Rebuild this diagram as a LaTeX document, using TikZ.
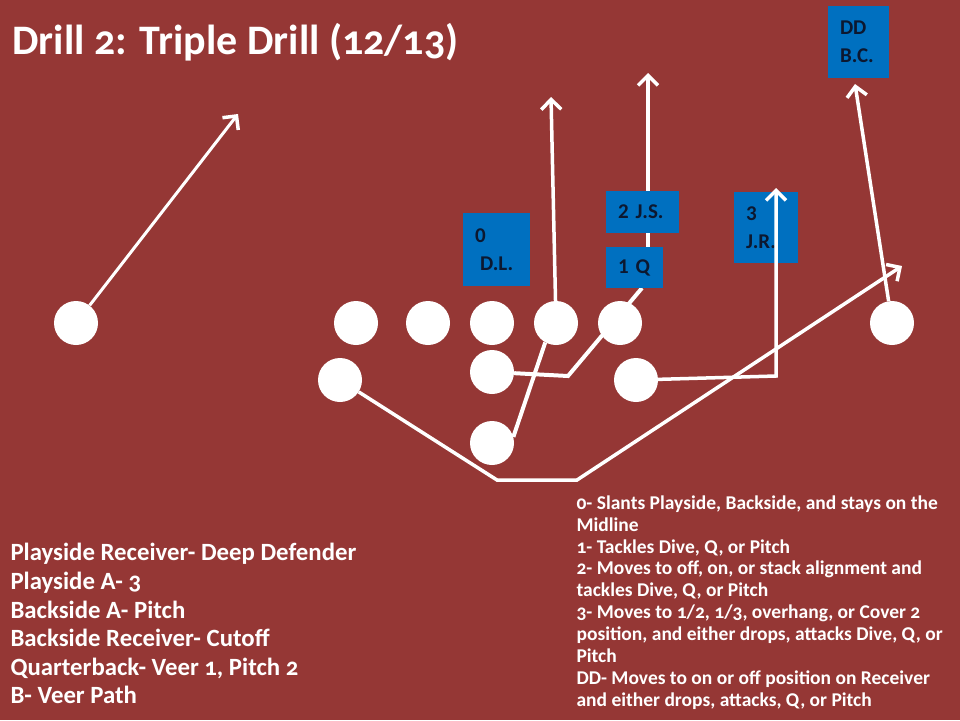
\documentclass[tikz,border=0pt]{standalone}
\usepackage{fontspec}
\setmainfont{Carlito}[Numbers=OldStyle]
\newfontfamily\boxfont{Carlito}[Numbers=Lining]
\usepackage{tikz}
\usetikzlibrary{arrows.meta,positioning,calc}
\definecolor{fieldred}{RGB}{149,55,53}
\definecolor{dfblue}{RGB}{0,112,192}
\definecolor{boxtext}{RGB}{12,24,48}
\tikzset{
  player/.style={circle, fill=white, minimum size=44pt, inner sep=0pt},
  defbox/.style={fill=dfblue, text=boxtext, align=left, inner xsep=12pt, inner ysep=0pt,
    font=\boxfont\bfseries\fontsize{21}{28}\selectfont},
  route/.style={white, line width=4pt},
  arrow/.style={white, line width=3.5pt, -{Straight Barb[length=10pt,width=20pt,line width=3.5pt]}},
  notes/.style={text=white, align=left, font=\bfseries}
}
\pgfdeclarelayer{back}
\pgfdeclarelayer{lines}
\pgfsetlayers{back,lines,main}
\begin{document}
\begin{tikzpicture}[x=1pt,y=-1pt]
\begin{pgfonlayer}{back}
\fill[fieldred] (0,0) rectangle (960,720);
\end{pgfonlayer}
\useasboundingbox (0,0) rectangle (960,720);

% Title
\node[notes, anchor=base west, font=\bfseries\fontsize{42}{46}\selectfont] (title) at (9,54) {Drill 2: Triple Drill (12/13)};

% Players
\node[player] (wrl) at (76,323) {};
\node[player] (ln1) at (356,323) {};
\node[player] (ln2) at (428,323) {};
\node[player] (ln3) at (492,323) {};
\node[player] (ln4) at (556,323) {};
\node[player] (ln5) at (620,323) {};
\node[player] (wrr) at (892,323) {};
\node[player] (hb) at (340,380) {};
\node[player] (qb) at (492,372) {};
\node[player] (rb) at (636,380) {};
\node[player] (fb) at (492,443) {};

% Defenders
\node[defbox, text width=43pt, minimum height=73pt] (dl) at (496.5,249.5) {0\\\hspace*{5pt}D.L.};
\node[defbox, text width=49pt, minimum height=42pt] (js) at (642.5,212) {2 J.S.};
\node[defbox, text width=33pt, minimum height=41pt] (q1) at (634.5,267.5) {1 Q};
\begin{pgfonlayer}{back}
\node[defbox, text width=40pt, minimum height=71pt] (jr) at (766,227.5) {3\\J.R.};
\end{pgfonlayer}
\node[defbox, text width=37pt, minimum height=72pt] (dd) at (858.5,42) {DD\\B.C.};

% Routes
\coordinate (wrlend) at (238,114);
\coordinate (ln4end) at (551,97);
\coordinate (jsend) at (648,73);
\coordinate (qbturn) at (568,376);
\coordinate (qbend) at (642,288);
\coordinate (rbturn) at (776,376);
\coordinate (rbend) at (776,188);
\coordinate (hbdown) at (497,480);
\coordinate (hbturn) at (577,480);
\coordinate (hbend) at (902,266);
\coordinate (wrrend) at (855,84);

\begin{pgfonlayer}{lines}
\draw[arrow, line width=3pt] (wrl) -- (wrlend);
\draw[arrow] (ln4) -- (ln4end);
\draw[arrow] (jsend |- q1.north) -- (jsend);
\draw[route] (fb.16) -- (ln4.241);
\draw[route] (qb) -- (qbturn) -- (qbend);
\draw[arrow] (rb) -- (rbturn) -- (rbend);
\draw[arrow] (hb) -- (hbdown) -- (hbturn) -- (hbend);
\draw[arrow] (wrr) -- (wrrend);
\end{pgfonlayer}

% Notes
\node[notes, anchor=north west, font=\bfseries\fontsize{24.8}{28.6}\selectfont] (assign) at (7,540) {Playside Receiver- Deep Defender\\
Playside A- 3\\
Backside A- Pitch\\
Backside Receiver- Cutoff\\
Quarterback- Veer 1, Pitch 2\\
B- Veer Path};
\node[notes, anchor=north west, font=\bfseries\fontsize{19.5}{21.9}\selectfont] (keys) at (573,492) {0- Slants Playside, Backside, and stays on the\\
Midline\\
1- Tackles Dive, Q, or Pitch\\
2- Moves to off, on, or stack alignment and\\
tackles Dive, Q, or Pitch\\
3- Moves to 1/2, 1/3, overhang, or Cover 2\\
position, and either drops, attacks Dive, Q, or\\
Pitch\\
DD- Moves to on or off position on Receiver\\
and either drops, attacks, Q, or Pitch};
\end{tikzpicture}
\end{document}
